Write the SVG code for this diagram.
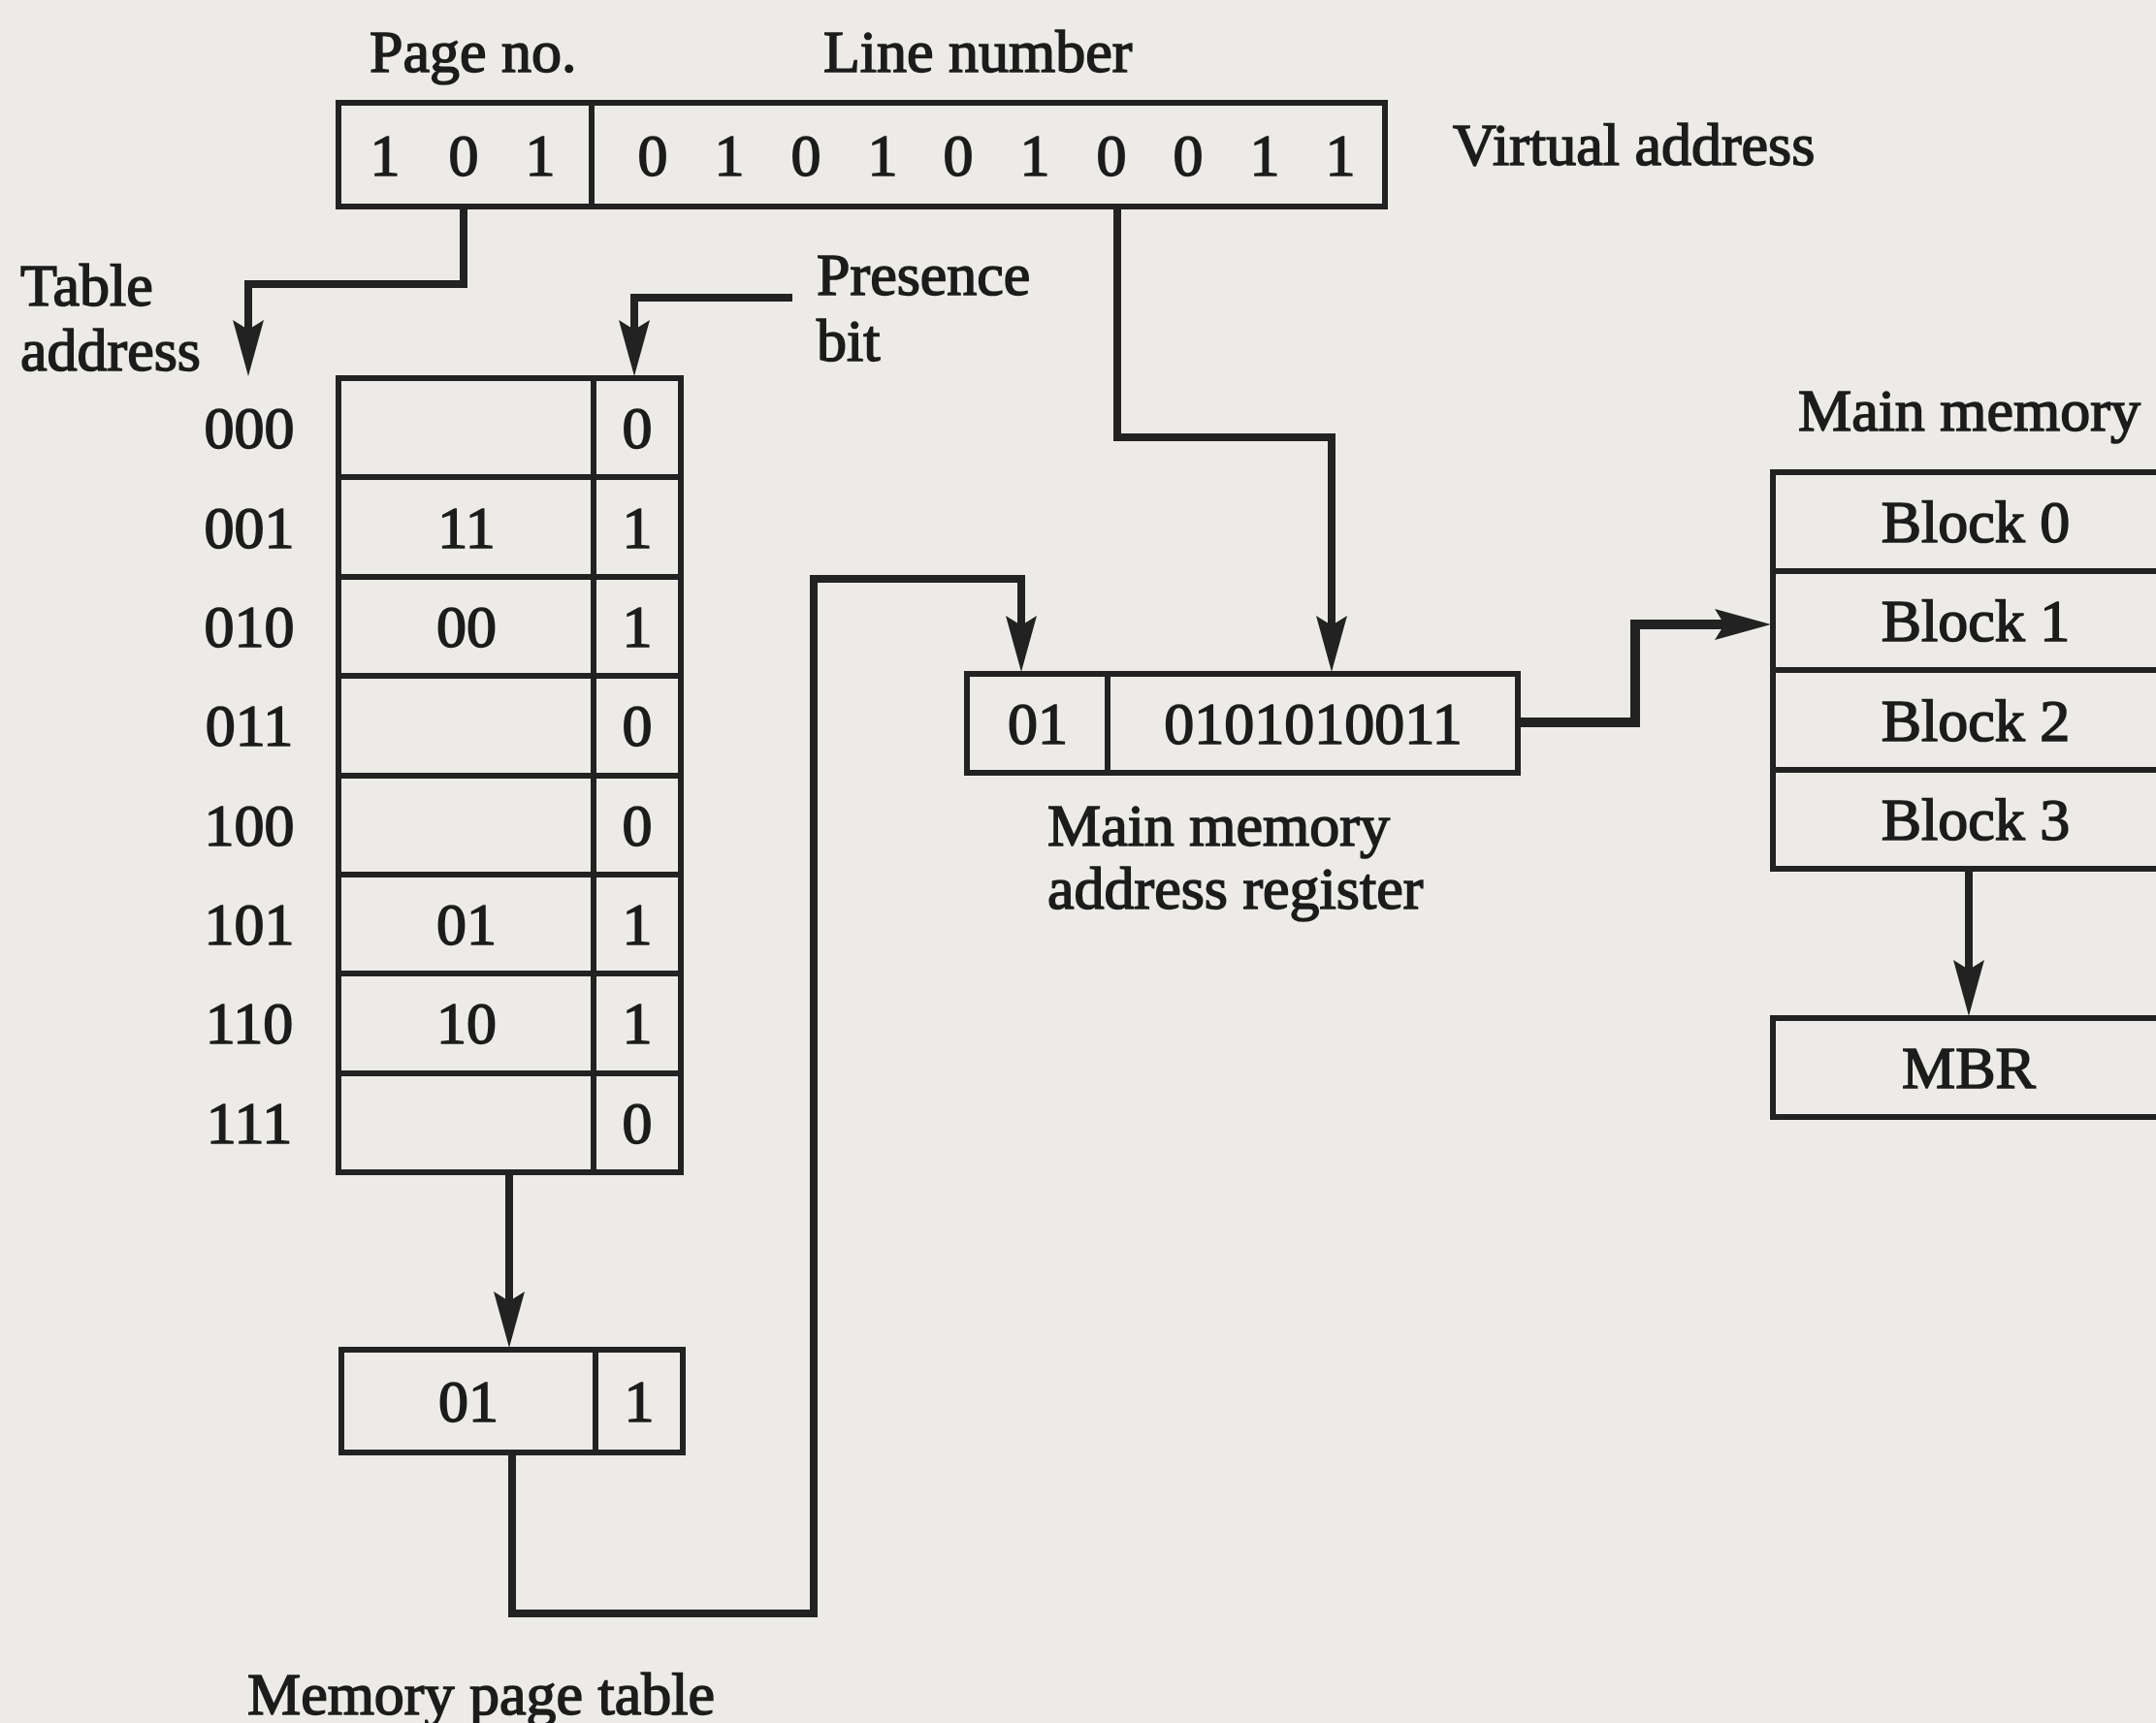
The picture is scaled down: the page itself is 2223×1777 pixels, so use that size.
<svg xmlns="http://www.w3.org/2000/svg" width="2223" height="1777" viewBox="0 0 2223 1777">
<style>
  .t { font-family: "Liberation Serif", "Times New Roman", serif; font-size: 62px; fill: #1c1c1c; stroke: #1c1c1c; stroke-width: 1.6; }
  .m { text-anchor: middle; }
  .box { fill: none; stroke: #222; stroke-width: 6; }
  .div { stroke: #222; stroke-width: 6; }
  .conn { fill: none; stroke: #222; stroke-width: 8; stroke-linejoin: miter; }
</style>
<defs>
  <marker id="arr" viewBox="0 0 58 32" refX="10" refY="16" markerWidth="58" markerHeight="32" markerUnits="userSpaceOnUse" orient="auto">
    <path d="M0,0 L58,16 L0,32 L10,16 z" fill="#222"/>
  </marker>
</defs>
<rect x="0" y="0" width="2223" height="1777" fill="#ecebe8"/>

<g id="labels">
  <text class="t" x="381" y="74">Page no.</text>
  <text class="t" x="849" y="74">Line number</text>
  <text class="t" x="1498" y="170">Virtual address</text>
  <text class="t" x="21" y="315">Table</text>
  <text class="t" x="21" y="382">address</text>
  <text class="t" x="842" y="304">Presence</text>
  <text class="t" x="842" y="372">bit</text>
  <text class="t" x="1080" y="872">Main memory</text>
  <text class="t" x="1080" y="937">address register</text>
  <text class="t" x="1854" y="444">Main memory</text>
  <text class="t" x="255" y="1768">Memory page table</text>
</g>

<g id="virtual-address">
  <rect class="box" x="349" y="106" width="1079" height="107"/>
  <line class="div" x1="610" y1="106" x2="610" y2="213"/>
  <text class="t m" x="397" y="181">1</text>
  <text class="t m" x="478" y="181">0</text>
  <text class="t m" x="557" y="181">1</text>
  <text class="t m" x="673" y="181">0</text>
  <text class="t m" x="752" y="181">1</text>
  <text class="t m" x="831" y="181">0</text>
  <text class="t m" x="910" y="181">1</text>
  <text class="t m" x="988" y="181">0</text>
  <text class="t m" x="1067" y="181">1</text>
  <text class="t m" x="1146" y="181">0</text>
  <text class="t m" x="1225" y="181">0</text>
  <text class="t m" x="1304" y="181">1</text>
  <text class="t m" x="1382" y="181">1</text>
</g>

<g id="page-table">
  <rect class="box" x="349" y="390" width="353" height="819"/>
  <line class="div" x1="612" y1="390" x2="612" y2="1209"/>
  <line class="div" x1="349" y1="492" x2="702" y2="492"/>
  <line class="div" x1="349" y1="595" x2="702" y2="595"/>
  <line class="div" x1="349" y1="697" x2="702" y2="697"/>
  <line class="div" x1="349" y1="800" x2="702" y2="800"/>
  <line class="div" x1="349" y1="902" x2="702" y2="902"/>
  <line class="div" x1="349" y1="1004" x2="702" y2="1004"/>
  <line class="div" x1="349" y1="1107" x2="702" y2="1107"/>
  <text class="t m" x="257" y="462">000</text>
  <text class="t m" x="257" y="565">001</text>
  <text class="t m" x="257" y="667">010</text>
  <text class="t m" x="257" y="769">011</text>
  <text class="t m" x="257" y="872">100</text>
  <text class="t m" x="257" y="974">101</text>
  <text class="t m" x="257" y="1076">110</text>
  <text class="t m" x="257" y="1179">111</text>
  <text class="t m" x="481" y="565">11</text>
  <text class="t m" x="481" y="667">00</text>
  <text class="t m" x="481" y="974">01</text>
  <text class="t m" x="481" y="1076">10</text>
  <text class="t m" x="657" y="462">0</text>
  <text class="t m" x="657" y="565">1</text>
  <text class="t m" x="657" y="667">1</text>
  <text class="t m" x="657" y="769">0</text>
  <text class="t m" x="657" y="872">0</text>
  <text class="t m" x="657" y="974">1</text>
  <text class="t m" x="657" y="1076">1</text>
  <text class="t m" x="657" y="1179">0</text>
</g>

<g id="table-output">
  <rect class="box" x="352" y="1392" width="352" height="106"/>
  <line class="div" x1="614" y1="1392" x2="614" y2="1498"/>
  <text class="t m" x="483" y="1466">01</text>
  <text class="t m" x="659" y="1466">1</text>
</g>

<g id="mar">
  <rect class="box" x="997" y="695" width="568" height="102"/>
  <line class="div" x1="1142" y1="695" x2="1142" y2="797"/>
  <text class="t m" x="1070" y="767">01</text>
  <text class="t m" x="1354" y="767">0101010011</text>
</g>

<g id="main-memory">
  <rect class="box" x="1828" y="487" width="420" height="409"/>
  <line class="div" x1="1828" y1="589" x2="2248" y2="589"/>
  <line class="div" x1="1828" y1="691" x2="2248" y2="691"/>
  <line class="div" x1="1828" y1="794" x2="2248" y2="794"/>
  <text class="t m" x="2037" y="559">Block 0</text>
  <text class="t m" x="2037" y="661">Block 1</text>
  <text class="t m" x="2037" y="764">Block 2</text>
  <text class="t m" x="2037" y="866">Block 3</text>
</g>

<g id="mbr">
  <rect class="box" x="1828" y="1050" width="420" height="102"/>
  <text class="t m" x="2030" y="1122">MBR</text>
</g>

<g id="connectors">
  <path class="conn" d="M478,213 V293 H256 V340" marker-end="url(#arr)"/>
  <path class="conn" d="M817,307 H654 V340" marker-end="url(#arr)"/>
  <path class="conn" d="M525,1209 V1342" marker-end="url(#arr)"/>
  <path class="conn" d="M528,1498 V1664 H839 V597 H1053 V645" marker-end="url(#arr)"/>
  <path class="conn" d="M1152,213 V451 H1373 V645" marker-end="url(#arr)"/>
  <path class="conn" style="stroke-width:10" d="M1565,745 H1686 V644 H1778" marker-end="url(#arr)"/>
  <path class="conn" d="M2030,896 V1000" marker-end="url(#arr)"/>
</g>
</svg>
